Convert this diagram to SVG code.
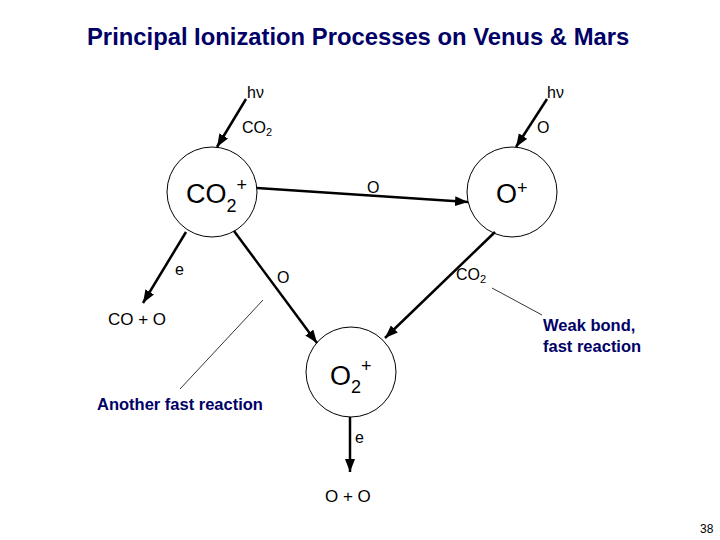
<svg xmlns="http://www.w3.org/2000/svg" width="720" height="540" viewBox="0 0 720 540">
<style>
.t{font-family:"Liberation Sans",Arial,sans-serif;fill:#000}
.n{font-family:"Liberation Sans",Arial,sans-serif;fill:#000066;font-weight:bold}
.c{fill:#fff;stroke:#000;stroke-width:1}
.a{stroke:#000;stroke-width:2.5;fill:none;marker-end:url(#ah)}
.l{stroke:#000;stroke-width:0.8;fill:none}
</style>
<defs>
<marker id="ah" markerUnits="userSpaceOnUse" markerWidth="14" markerHeight="11" refX="13" refY="5" orient="auto">
<path d="M0,0 L13,5 L0,10 z" fill="#000"/>
</marker>
</defs>
<rect width="720" height="540" fill="#fff"/>
<text class="n" x="87" y="45" font-size="23.8">Principal Ionization Processes on Venus &amp; Mars</text>

<g id="node-co2plus">
<circle class="c" cx="212" cy="192" r="45"/>
<text class="t" x="186" y="203" font-size="27">CO<tspan font-size="18" dy="9">2</tspan><tspan font-size="18" dy="-21">+</tspan></text>
</g>
<g id="node-oplus">
<circle class="c" cx="512" cy="192" r="45"/>
<text class="t" x="496" y="203" font-size="27">O<tspan font-size="18" dy="-9">+</tspan></text>
</g>
<g id="node-o2plus">
<circle class="c" cx="351" cy="372" r="45"/>
<text class="t" x="330" y="385" font-size="27">O<tspan font-size="18" dy="8">2</tspan><tspan font-size="18" dy="-21">+</tspan></text>
</g>

<g id="connectors">
<line class="a" x1="246" y1="99" x2="217" y2="147"/>
<line class="a" x1="547" y1="99" x2="516" y2="147"/>
<line class="a" x1="257" y1="188" x2="468" y2="202"/>
<line class="a" x1="186" y1="232" x2="143" y2="303"/>
<line class="a" x1="234" y1="231" x2="317" y2="343"/>
<line class="a" x1="495" y1="232" x2="385" y2="338"/>
<line class="a" x1="350" y1="417" x2="350" y2="472"/>
<line class="l" x1="492" y1="288" x2="542" y2="315"/>
<line class="l" x1="263" y1="300" x2="180" y2="389"/>
</g>

<g id="labels">
<text class="t" x="247" y="98" font-size="16">hν</text>
<text class="t" x="547" y="98" font-size="16">hν</text>
<text class="t" x="242" y="133" font-size="16">CO<tspan font-size="11" dy="3">2</tspan></text>
<text class="t" x="537" y="133" font-size="16">O</text>
<text class="t" x="367" y="193" font-size="16">O</text>
<text class="t" x="175" y="275" font-size="16">e</text>
<text class="t" x="277" y="283" font-size="16">O</text>
<text class="t" x="456" y="280" font-size="16">CO<tspan font-size="11" dy="3">2</tspan></text>
<text class="t" x="108" y="325" font-size="17">CO + O</text>
<text class="n" x="543" y="331" font-size="16.5">Weak bond,</text>
<text class="n" x="543" y="352" font-size="16.5">fast reaction</text>
<text class="n" x="97" y="410" font-size="16.5">Another fast reaction</text>
<text class="t" x="355" y="443" font-size="16">e</text>
<text class="t" x="325" y="502" font-size="17">O + O</text>
<text class="t" x="700" y="533" font-size="12">38</text>
</g>
</svg>
